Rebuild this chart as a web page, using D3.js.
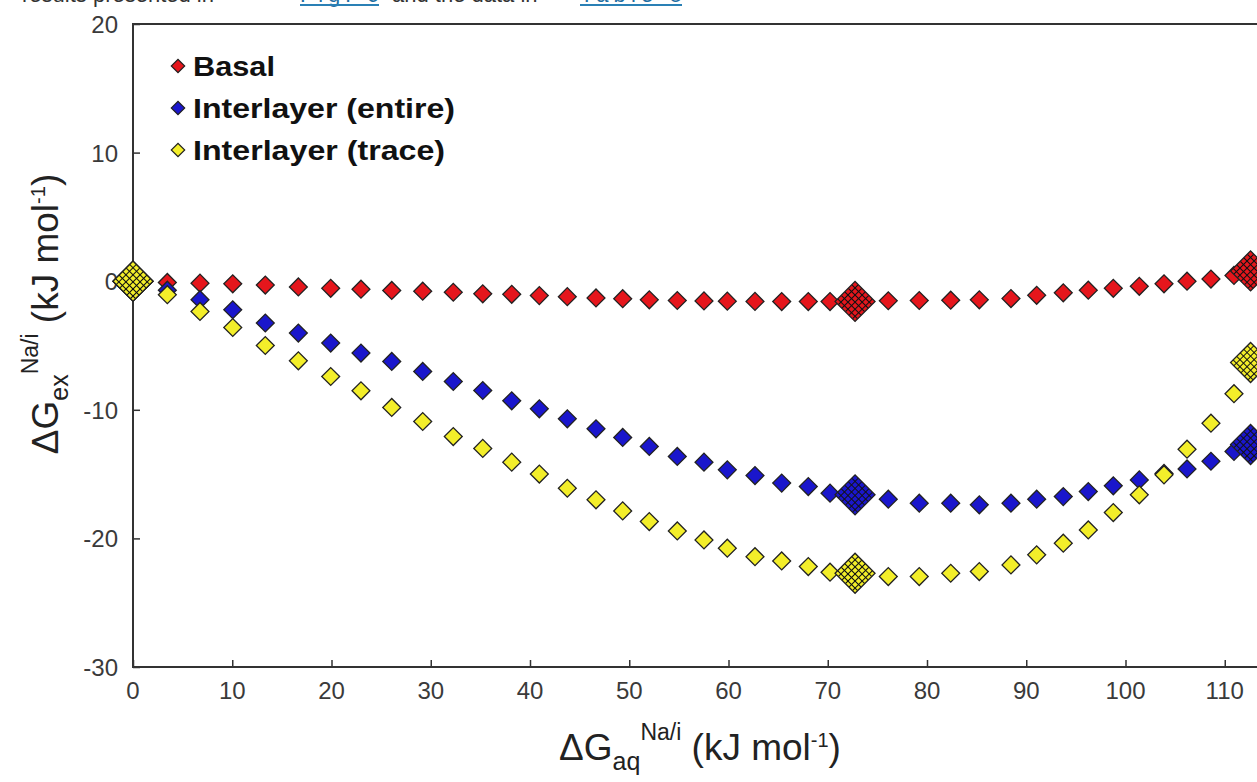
<!DOCTYPE html>
<html><head><meta charset="utf-8">
<script src="https://cdn.jsdelivr.net/npm/d3@7"></script>
<style>body{margin:0;background:#fff}svg{display:block}</style>
</head><body>
<svg id="chart" width="1257" height="782"></svg>
<script>
// ---- data ----
const xValues = [0, 3.46, 6.75, 10.05, 13.33, 16.66, 19.92, 22.97, 26.07, 29.19, 32.27, 35.24, 38.16, 40.94, 43.76, 46.65, 49.34, 52.02, 54.84, 57.53, 59.88, 62.67, 65.36, 68.04, 70.23, 72.75, 76.1, 79.22, 82.39, 85.27, 88.46, 91.05, 93.73, 96.25, 98.77, 101.39, 103.88, 106.2, 108.61, 110.93, 112.6];
const basal = [0, -0.1, -0.15, -0.2, -0.3, -0.45, -0.55, -0.62, -0.72, -0.78, -0.86, -0.98, -1.02, -1.12, -1.2, -1.3, -1.36, -1.45, -1.5, -1.53, -1.55, -1.57, -1.58, -1.58, -1.58, -1.57, -1.52, -1.5, -1.48, -1.45, -1.35, -1.1, -0.9, -0.7, -0.55, -0.4, -0.2, 0, 0.17, 0.45, 0.8];
const interlayerEntire = [0, -0.7, -1.44, -2.22, -3.25, -4.03, -4.81, -5.59, -6.24, -7.02, -7.8, -8.5, -9.3, -9.92, -10.7, -11.48, -12.15, -12.85, -13.63, -14.07, -14.67, -15.11, -15.7, -15.97, -16.48, -16.61, -16.95, -17.26, -17.26, -17.39, -17.26, -16.95, -16.75, -16.36, -15.91, -15.45, -14.95, -14.6, -14.0, -13.24, -12.7];
const interlayerTrace = [0, -1.05, -2.35, -3.6, -5.0, -6.19, -7.41, -8.52, -9.82, -10.91, -12.08, -13.0, -14.07, -15.0, -16.1, -17.0, -17.86, -18.69, -19.42, -20.12, -20.76, -21.42, -21.75, -22.19, -22.63, -22.71, -22.97, -22.97, -22.71, -22.58, -22.06, -21.28, -20.37, -19.34, -17.99, -16.61, -15.06, -13.06, -11.04, -8.75, -6.32];
const highlightIndex = [0, 25, 40];
const seriesNames = ["Basal", "Interlayer (entire)", "Interlayer (trace)"];
const seriesColors = ["#e5161c", "#1a16cc", "#f3ee2a"];
const xTicks = [0, 10, 20, 30, 40, 50, 60, 70, 80, 90, 100, 110];
const yTicks = [-30, -20, -10, 0, 10, 20];

const series = [basal, interlayerEntire, interlayerTrace].map((vals, i) => ({
  name: seriesNames[i], color: seriesColors[i],
  points: vals.map((v, j) => ({x: xValues[j], y: v, big: highlightIndex.includes(j)}))
}));

const svg = d3.select("#chart");
const x = d3.scaleLinear().domain([0, 115]).range([133, 133 + 115 * 9.925]);
const y = d3.scaleLinear().domain([-30, 20]).range([667, 24]);

// top cut-off text line (page text above the figure, cropped in the reference)
const topLine = svg.append("g").attr("font-family", "Liberation Sans, Arial, sans-serif").attr("font-size", 22);
topLine.append("text").attr("x", 22).attr("y", 2).attr("fill", "#333").text("results presented in");
topLine.append("text").attr("x", 300).attr("y", 2).attr("fill", "#1f6fa3").attr("textLength", 79).text("Fig. 6");
topLine.append("text").attr("x", 392).attr("y", 2).attr("fill", "#333").text("and the data in");
topLine.append("text").attr("x", 580).attr("y", 2).attr("fill", "#1f6fa3").attr("textLength", 102).text("Table 5");
topLine.append("line").attr("x1", 300).attr("x2", 379).attr("y1", 5).attr("y2", 5).attr("stroke", "#2a80b5").attr("stroke-width", 2);
topLine.append("line").attr("x1", 580).attr("x2", 682).attr("y1", 5).attr("y2", 5).attr("stroke", "#2a80b5").attr("stroke-width", 2);

// patterns for highlighted points
const defs = svg.append("defs");
series.forEach((s, i) => {
  const p = defs.append("pattern").attr("id", "hatch" + i).attr("patternUnits", "userSpaceOnUse")
    .attr("width", 5).attr("height", 5);
  p.append("rect").attr("width", 5).attr("height", 5).attr("fill", s.color);
  p.append("path").attr("d", "M0,0.5H5M0.5,0V5").attr("stroke", "#111").attr("stroke-width", 1);
});

// frame
svg.append("rect").attr("x", x(0)).attr("y", y(20)).attr("width", 1400).attr("height", y(-30) - y(20))
  .attr("fill", "none").attr("stroke", "#333").attr("stroke-width", 2);

// ticks (inward)
const axisFont = "Liberation Sans, Arial, Helvetica, sans-serif";
const gx = svg.append("g").attr("transform", `translate(0,${y(-30)})`)
  .call(d3.axisTop(x).tickValues(xTicks).tickSize(7).tickFormat(""));
gx.select(".domain").remove();
gx.selectAll("line").attr("stroke", "#333").attr("stroke-width", 1.5);
const gy = svg.append("g").attr("transform", `translate(${x(0)},0)`)
  .call(d3.axisRight(y).tickValues(yTicks).tickSize(7).tickFormat(""));
gy.select(".domain").remove();
gy.selectAll("line").attr("stroke", "#333").attr("stroke-width", 1.5);

// tick labels
svg.append("g").selectAll("text").data(xTicks).join("text")
  .attr("x", d => x(d)).attr("y", 699).attr("text-anchor", "middle")
  .attr("font-family", axisFont).attr("font-size", 24).attr("fill", "#3a3a3a").text(d => d);
svg.append("g").selectAll("text").data(yTicks).join("text")
  .attr("x", 118).attr("y", d => y(d) + 9).attr("text-anchor", "end")
  .attr("font-family", axisFont).attr("font-size", 24).attr("fill", "#3a3a3a").text(d => d);

// points
const sym = (big) => d3.symbol().type(d3.symbolSquare).size(big ? 800 : 160)();
series.forEach((s, i) => {
  svg.append("g").selectAll("path").data(s.points).join("path")
    .attr("d", d => sym(d.big))
    .attr("transform", d => `translate(${x(d.x)},${y(d.y)}) rotate(45)`)
    .attr("fill", d => d.big ? `url(#hatch${i})` : s.color)
    .attr("stroke", "#222").attr("stroke-width", 1.3);
});

// legend
const legend = svg.append("g");
const legendWidths = [82, 262, 252];
series.forEach((s, i) => {
  const ly = 66 + i * 42;
  legend.append("path").attr("d", d3.symbol().type(d3.symbolSquare).size(90)())
    .attr("transform", `translate(178,${ly}) rotate(45)`)
    .attr("fill", s.color).attr("stroke", "#222").attr("stroke-width", 1.2);
  legend.append("text").attr("x", 193).attr("y", ly + 10)
    .attr("font-family", axisFont).attr("font-weight", "bold").attr("font-size", 28)
    .attr("fill", "#111").attr("textLength", legendWidths[i]).attr("lengthAdjust", "spacingAndGlyphs")
    .text(s.name);
});

// axis titles
function title(g, sub) {
  g.append("tspan").text("ΔG");
  g.append("tspan").attr("font-size", 25).attr("dy", 10).text(sub);
  g.append("tspan").attr("font-size", 23).attr("dy", -30).text("Na/i");
  g.append("tspan").attr("dy", 20).text(" (kJ mol");
  g.append("tspan").attr("font-size", 20).attr("dy", -13).text("-1");
  g.append("tspan").attr("dy", 13).text(")");
}
const xt = svg.append("text").attr("x", 700).attr("y", 760).attr("text-anchor", "middle")
  .attr("font-family", axisFont).attr("font-size", 37).attr("fill", "#222");
title(xt, "aq");
const yt = svg.append("text").attr("transform", "translate(58,314) rotate(-90)").attr("text-anchor", "middle")
  .attr("font-family", axisFont).attr("font-size", 37).attr("fill", "#222");
title(yt, "ex");
</script>
</body></html>
